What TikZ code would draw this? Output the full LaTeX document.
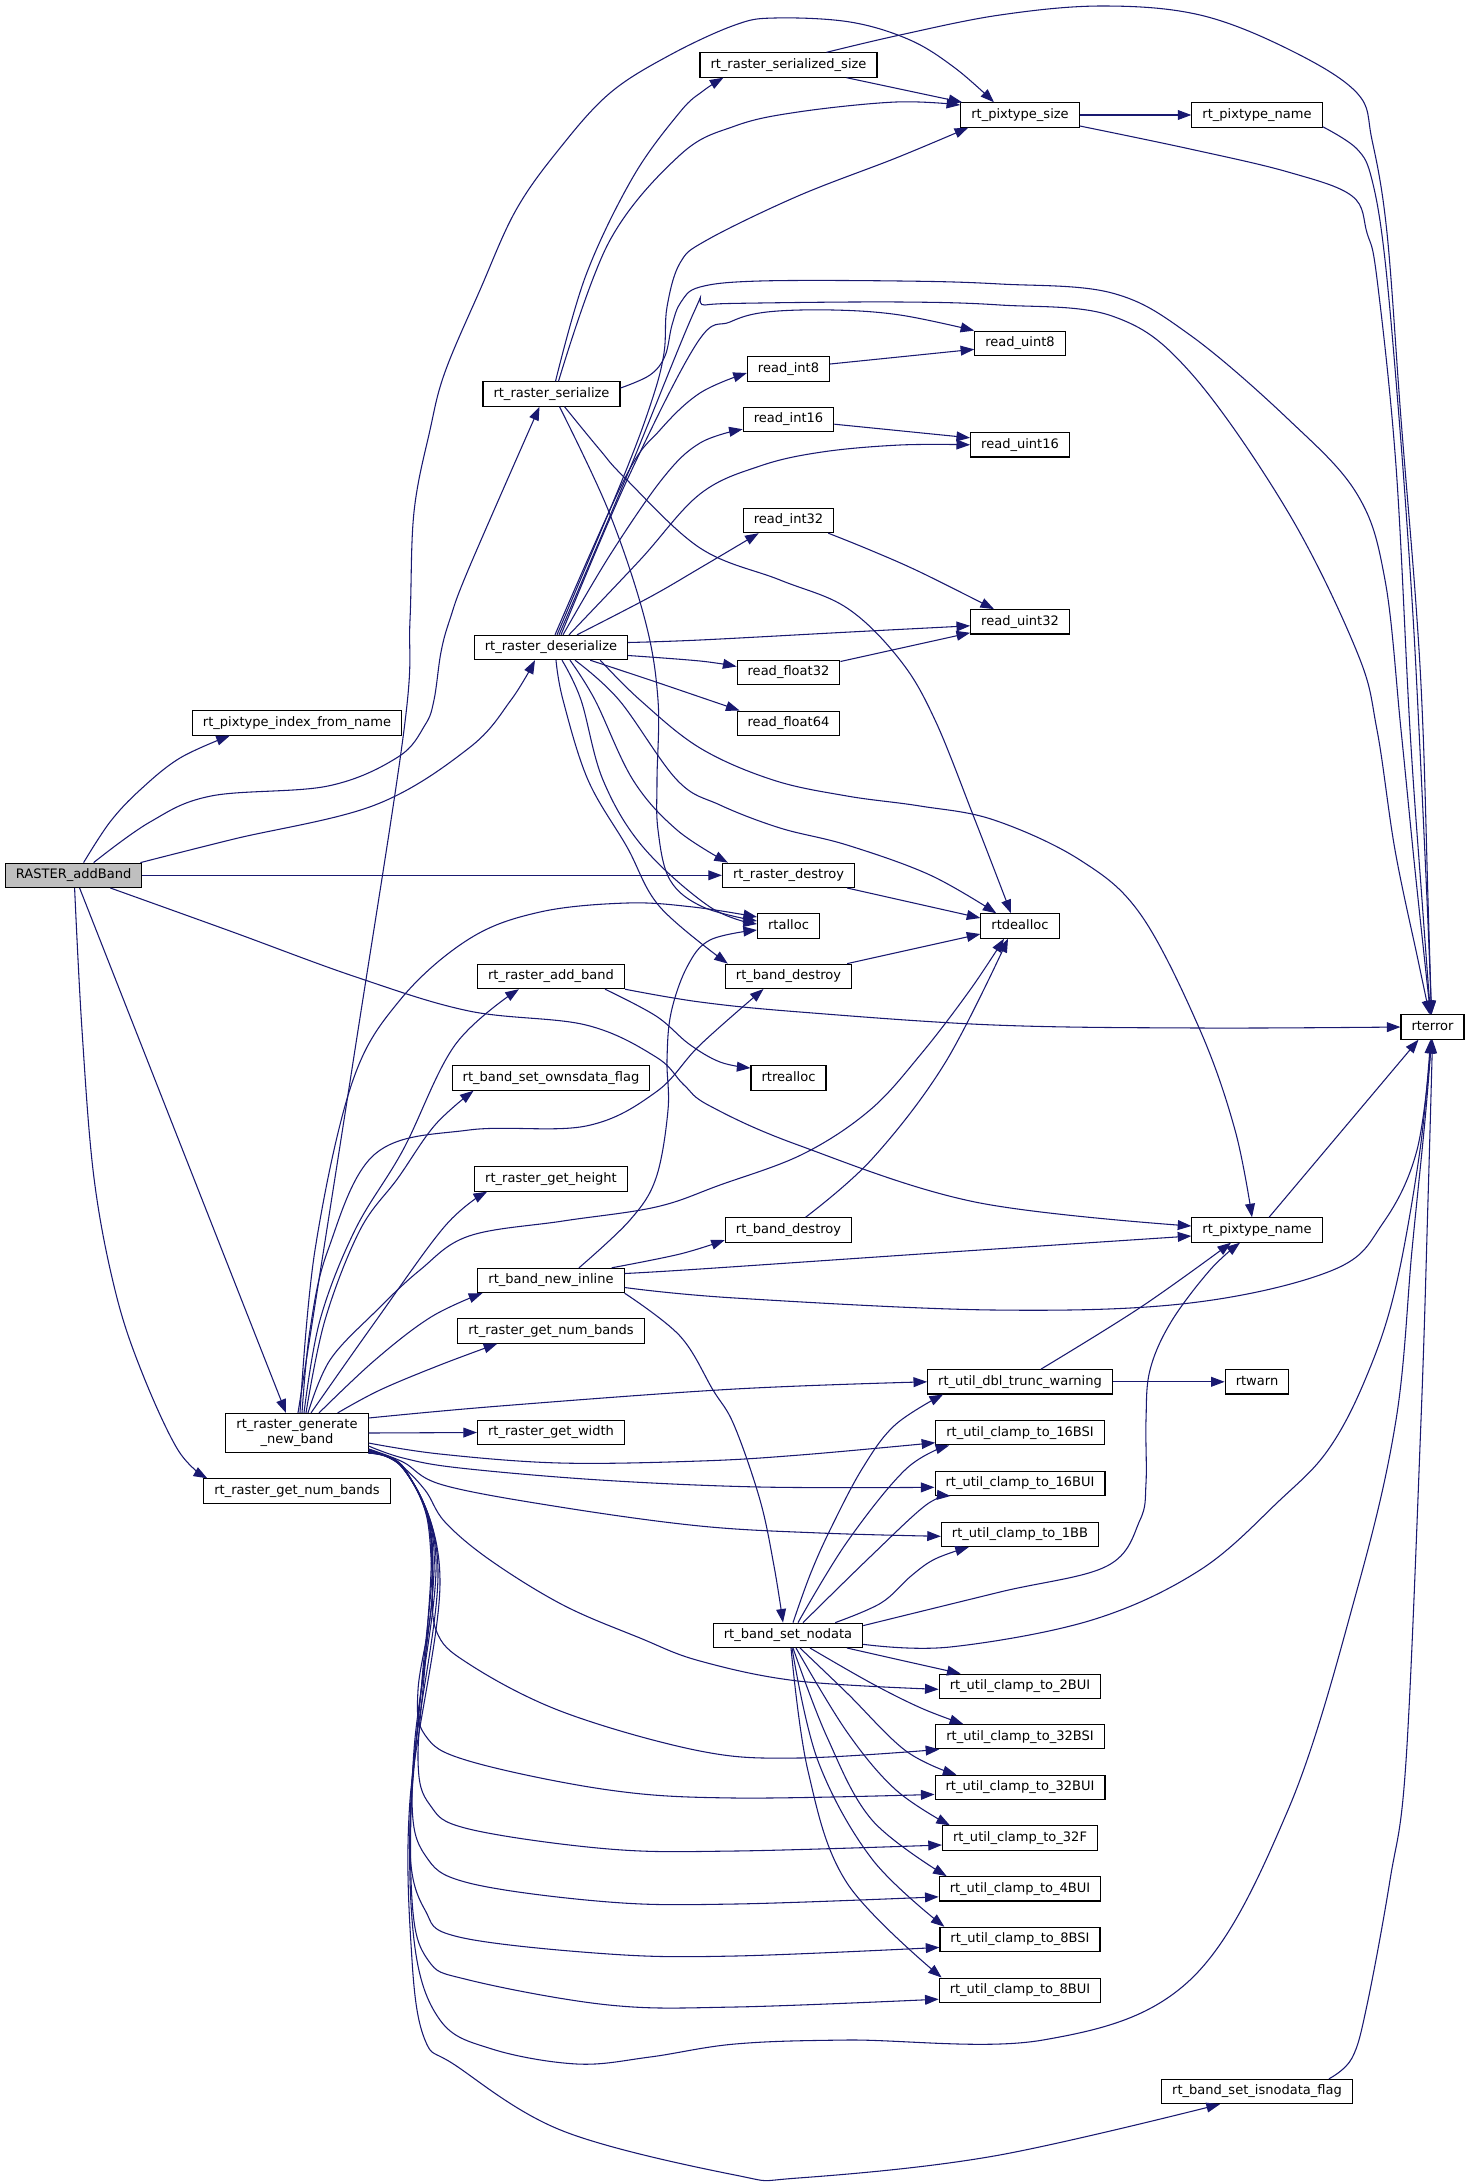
\documentclass[tikz,border=0pt]{standalone}
\usepackage{fontspec}
\setmainfont{DejaVu Sans}
\usetikzlibrary{arrows.meta,calc}
\definecolor{edgec}{HTML}{191970}
\definecolor{graybox}{HTML}{BFBFBF}
\begin{document}
\begin{tikzpicture}[x=0.75pt,y=-0.75pt,
  box/.style={draw=black, line width=0.85pt, fill=white, inner xsep=7.9pt, inner ysep=0pt,
    minimum height=18.2pt, text height=7.4pt, text depth=2.3pt,
    font=\fontsize{9.77pt}{11.2pt}\selectfont},
  box2/.style={draw=black, line width=0.85pt, fill=white, inner xsep=7.9pt, inner ysep=0pt,
    minimum height=29.3pt, align=center, font=\fontsize{9.77pt}{11pt}\selectfont},
  edge/.style={draw=edgec, line width=0.8pt, -{Triangle[length=10.2pt,width=7.4pt]}},
  sm/.style={smooth, tension=0.6}]
\fill[white] (0,0) rectangle (1469,2184);
\useasboundingbox (0,0) rectangle (1469,2184);

% ---------------- nodes ----------------
\node[box, fill=graybox] (A) at (73.6,875.3) {RASTER\_addBand};
\node[box] (IFN) at (297,723) {rt\_pixtype\_index\_from\_name};
\node[box] (S) at (551.5,394) {rt\_raster\_serialize};
\node[box] (D) at (551,647.5) {rt\_raster\_deserialize};
\node[box] (SS) at (788.5,65) {rt\_raster\_serialized\_size};
\node[box] (PS) at (1020,115) {rt\_pixtype\_size};
\node[box] (PN1) at (1257,115) {rt\_pixtype\_name};
\node[box] (RU8) at (1020,343.3) {read\_uint8};
\node[box] (RI8) at (788.5,369) {read\_int8};
\node[box] (RI16) at (788.5,419.2) {read\_int16};
\node[box] (RU16) at (1020,444.8) {read\_uint16};
\node[box] (RI32) at (788.5,520.5) {read\_int32};
\node[box] (RU32) at (1020,621.8) {read\_uint32};
\node[box] (RF32) at (788.5,672.5) {read\_float32};
\node[box] (RF64) at (788.5,723.2) {read\_float64};
\node[box] (RD) at (788.5,875.3) {rt\_raster\_destroy};
\node[box] (RA) at (788.5,926) {rtalloc};
\node[box] (RDA) at (1020,926) {rtdealloc};
\node[box] (RAB) at (551,976.5) {rt\_raster\_add\_band};
\node[box] (BD1) at (788.5,976.3) {rt\_band\_destroy};
\node[box] (RE) at (1432.5,1027) {rterror};
\node[box] (RR) at (788.5,1078) {rtrealloc};
\node[box] (OWN) at (551,1078) {rt\_band\_set\_ownsdata\_flag};
\node[box] (GH) at (551,1179) {rt\_raster\_get\_height};
\node[box] (BD2) at (788.5,1230) {rt\_band\_destroy};
\node[box] (PN2) at (1257,1230) {rt\_pixtype\_name};
\node[box] (BNI) at (551,1280.5) {rt\_band\_new\_inline};
\node[box] (GNB1) at (551,1331) {rt\_raster\_get\_num\_bands};
\node[box] (DTW) at (1020,1381.8) {rt\_util\_dbl\_trunc\_warning};
\node[box] (RW) at (1257,1381.8) {rtwarn};
\node[box2] (G) at (297,1433) {rt\_raster\_generate\\\_new\_band};
\node[box] (GW) at (551,1432.5) {rt\_raster\_get\_width};
\node[box] (C16S) at (1020,1432.7) {rt\_util\_clamp\_to\_16BSI};
\node[box] (GNB2) at (297,1491) {rt\_raster\_get\_num\_bands};
\node[box] (C16U) at (1020,1483.3) {rt\_util\_clamp\_to\_16BUI};
\node[box] (C1BB) at (1020,1534.3) {rt\_util\_clamp\_to\_1BB};
\node[box] (SN) at (788,1635.3) {rt\_band\_set\_nodata};
\node[box] (C2U) at (1020,1686.3) {rt\_util\_clamp\_to\_2BUI};
\node[box] (C32S) at (1020,1736.7) {rt\_util\_clamp\_to\_32BSI};
\node[box] (C32U) at (1020,1787.4) {rt\_util\_clamp\_to\_32BUI};
\node[box] (C32F) at (1020,1838) {rt\_util\_clamp\_to\_32F};
\node[box] (C4U) at (1020,1888.8) {rt\_util\_clamp\_to\_4BUI};
\node[box] (C8S) at (1020,1939.4) {rt\_util\_clamp\_to\_8BSI};
\node[box] (C8U) at (1020,1990.2) {rt\_util\_clamp\_to\_8BUI};
\node[box] (ISN) at (1257,2091.5) {rt\_band\_set\_isnodata\_flag};

% ---------------- RASTER_addBand ----------------
\draw[edge] plot[sm] coordinates {($(A.north)+(10,0)$) (110,822) (140,790) (180,758) ($(IFN.south west)+(38,0)$)};
\draw[edge] plot[sm] coordinates {($(A.north)+(20,0)$) (150,822) (211,796) (328,786) (398,757) (425,725) (434,700) (441,652) (450,619) (469,568) ($(S.south)+(-12,0)$)};
\draw[edge] plot[sm] coordinates {($(A.north east)+(-2,0)$) (234,839) (375,805) (469,748) (511,700) ($(D.south)+(-16,0)$)};
\draw[edge] (A.east) -- (RD.west);
\draw[edge] plot[sm] coordinates {($(A.south east)+(-32,0)$) (230,931) (356,977) (469,1011) (586,1025) (656,1057) (684,1085) (710,1106) (798,1145) (975,1202) ($(PN2.west)+(0,-4)$)};
\draw[edge] ($(A.south)+(6,0)$) -- ($(G.north)+(-11,0)$);
\draw[edge] plot[sm] coordinates {($(A.south)+(1,0)$) (82,1030) (94,1178) (115,1290) (141,1370) (178,1450) ($(GNB2.north west)+(4,0)$)};

% ---------------- rt_raster_serialize ----------------
\draw[edge] plot[sm] coordinates {($(S.north)+(4,0)$) (586,275) (633,177) (680,112) (703,91) ($(SS.south west)+(24,0)$)};
\draw[edge] plot[sm] coordinates {($(S.north)+(7,0)$) (609,242) (680,155) (735,126) (798,112) (896,102) ($(PS.west)+(0,-10)$)};
\draw[edge] plot[sm] coordinates {($(S.east)+(0,-6)$) (650,375) (665,356) (672,325) (681,302) (700,287) (760,281) (900,281) (1000,284) (1112,293) (1190,335) (1288,419) (1357,494) (1385,580) (1401,730) (1415,870) ($(RE.north)+(-2,0)$)};
\draw[edge] plot[sm] coordinates {($(S.south)+(8,0)$) (609,512) (645,620) (658,700) (657,780) (658,830) (670,880) (703,907) ($(RA.west)+(0,-5)$)};
\draw[edge] plot[sm] coordinates {($(S.south)+(13,0)$) (600,450) (625,478) (700,548) (780,580) (847,608) (900,660) (935,720) (975,820) ($(RDA.north)+(-9,0)$)};

% ---------------- rt_raster_deserialize ----------------
\draw[edge] plot[sm] coordinates {($(D.north)+(6,0)$) (623,478) (652,400) (664,353) (667,307) (680,263) (707,240) (798,196) (896,158) ($(PS.south west)+(8,0)$)};
\draw[edge] plot[sm] coordinates {($(D.north)+(8,0)$) (626,478) (694,312) (705,305) (760,303) (900,302) (1000,305) (1112,316) (1190,372) (1288,512) (1357,652) (1377,730) (1395,850) (1418,960) ($(RE.north)+(-3,0)$)};
\draw[edge] plot[sm] coordinates {($(D.north)+(10,0)$) (628,478) (697,343) (730,322) (767,312) (833,310) (900,315) (RU8.north west)};
\draw[edge] plot[sm] coordinates {($(D.north)+(4,0)$) (625,478) (660,430) (700,393) ($(RI8.west)+(0,4)$)};
\draw[edge] plot[sm] coordinates {($(D.north)+(12,0)$) (610,555) (663,478) (700,443) ($(RI16.west)+(0,10)$)};
\draw[edge] plot[sm] coordinates {($(D.north)+(18,0)$) (640,560) (700,494) (760,466) (822,452) (900,445) (RU16.west)};
\draw[edge] plot[sm] coordinates {($(D.north)+(26,0)$) (650,597) (700,568) ($(RI32.south west)+(16,0)$)};
\draw[edge] plot[sm] coordinates {($(D.east)+(0,-5)$) (700,640) (850,632) ($(RU32.west)+(0,4)$)};
\draw[edge] plot[sm] coordinates {($(D.east)+(0,8)$) (700,661) ($(RF32.west)+(0,-6)$)};
\draw[edge] plot[sm] coordinates {($(D.south east)+(-38,0)$) (650,680) (700,697) ($(RF64.north west)+(3,0)$)};
\draw[edge] plot[sm] coordinates {($(D.south)+(19,0)$) (595,700) (633,780) (677,830) ($(RD.north west)+(6,0)$)};
\draw[edge] plot[sm] coordinates {($(D.south)+(11,0)$) (581,700) (603,780) (643,847) (710,907) ($(RA.west)+(0,-2)$)};
\draw[edge] plot[sm] coordinates {($(D.south)+(5,0)$) (563,700) (588,780) (627,847) (660,907) ($(BD1.north west)+(3,0)$)};
\draw[edge] plot[sm] coordinates {($(D.south)+(24,0)$) (619,700) (677,780) (720,805) (780,828) (847,845) (930,875) ($(RDA.north west)+(16,0)$)};
\draw[edge] plot[sm] coordinates {($(D.south east)+(-28,0)$) (640,700) (700,748) (773,780) (847,796) (920,806) (994,820) (1080,860) (1141,915) (1200,1030) (1235,1130) ($(PN2.north)+(-5,0)$)};

% ---------------- small ones ----------------
\draw[edge] ($(SS.south east)+(-31,0)$) -- ($(PS.north west)+(2,0)$);
\draw[edge] plot[sm] coordinates {($(SS.north east)+(-51,0)$) (900,35) (1000,15) (1102,6) (1200,15) (1290,50) (1357,93) (1372,140) (1387,233) (1401,419) (1416,605) (1423,730) (1428,900) ($(RE.north)+(-1,0)$)};
\draw[edge] (PS.east) -- (PN1.west);
\draw[edge] plot[sm] coordinates {($(PS.east)+(0,11)$) (1190,149) (1288,172) (1352,196) (1367,233) (1377,279) (1396,466) (1410,730) (1422,900) ($(RE.north)+(-2,0)$)};
\draw[edge] plot[sm] coordinates {($(PN1.south east)+(0,-1)$) (1357,149) (1372,180) (1385,260) (1400,430) (1412,600) (1419,730) (1427,900) ($(RE.north)+(-1,0)$)};
\draw[edge] ($(RI8.east)+(0,-5)$) -- ($(RU8.west)+(0,6)$);
\draw[edge] ($(RI16.east)+(0,5)$) -- ($(RU16.west)+(0,-7)$);
\draw[edge] plot[sm] coordinates {($(RI32.south east)+(-6,0)$) (870,550) (920,572) ($(RU32.north)+(-26,0)$)};
\draw[edge] ($(RF32.east)+(0,-11)$) -- ($(RU32.west)+(0,11)$);
\draw[edge] ($(RD.south east)+(-8,0)$) -- ($(RDA.west)+(0,-8)$);
\draw[edge] ($(BD1.north east)+(-5,0)$) -- ($(RDA.west)+(0,8)$);
\draw[edge] plot[sm] coordinates {(RAB.south east) (700,1002) (800,1012) (994,1025) (1200,1028) (RE.west)};
\draw[edge] plot[sm] coordinates {($(RAB.south east)+(-20,0)$) (656,1016) (689,1044) (720,1062) ($(RR.west)+(0,-10)$)};
\draw[edge] plot[sm] coordinates {($(BD2.north)+(17,0)$) (872,1159) (945,1063) ($(RDA.south)+(-12,0)$)};
\draw[edge] ($(PN2.north)+(12,0)$) -- ($(RE.south)+(-14,0)$);

% ---------------- rt_band_new_inline ----------------
\draw[edge] plot[sm] coordinates {($(BNI.north east)+(-13,0)$) (680,1254) ($(BD2.west)+(0,10)$)};
\draw[edge] plot[sm] coordinates {($(BNI.east)+(0,-7)$) (700,1269) (950,1252) ($(PN2.west)+(0,6)$)};
\draw[edge] plot[sm] coordinates {($(BNI.east)+(0,7)$) (735,1298) (994,1310) (1190,1303) (1333,1270) (1383,1223) (1417,1150) ($(RE.south)+(-1,0)$)};
\draw[edge] plot[sm] coordinates {($(BNI.north)+(28,0)$) (630,1220) (656,1178) (668,1110) (667,1060) (671,1013) (687,967) (710,940) ($(RA.west)+(0,4)$)};
\draw[edge] plot[sm] coordinates {(BNI.south east) (680,1336) (713,1390) (734,1425) (760,1500) (774,1566) ($(SN.north)+(-5,0)$)};

\draw[edge] plot[sm] coordinates {($(DTW.north)+(21,0)$) (1141,1307) ($(PN2.south)+(-26,0)$)};
\draw[edge] (DTW.east) -- (RW.west);

% ---------------- rt_raster_generate_new_band ----------------
\draw[edge] plot[sm] coordinates {($(G.north)+(1,0)$) (354,1056) (404,730) (410,620) (414,512) (430,430) (445,372) (480,290) (516,210) (560,148) (610,93) (670,55) (735,25) (775,18) (850,22) (910,40) (955,68) ($(PS.north)+(-26,0)$)};
\draw[edge] plot[sm] coordinates {($(G.north)+(3,0)$) (315,1250) (352,1083) (400,1000) (469,939) (540,912) (627,903) (693,907) ($(RA.west)+(0,-9)$)};
\draw[edge] plot[sm] coordinates {($(G.north)+(7,0)$) (320,1320) (355,1230) (403,1150) (455,1045) ($(RAB.south west)+(42,0)$)};
\draw[edge] plot[sm] coordinates {($(G.north)+(9,0)$) (325,1320) (360,1230) (398,1178) (435,1125) ($(OWN.south west)+(22,0)$)};
\draw[edge] plot[sm] coordinates {($(G.north)+(14,0)$) (375,1322) (445,1226) ($(GH.south west)+(13,0)$)};
\draw[edge] plot[sm] coordinates {($(G.north)+(5,0)$) (310,1330) (328,1250) (375,1154) (469,1130) (586,1126) (656,1092) (700,1045) ($(BD1.south)+(-25,0)$)};
\draw[edge] plot[sm] coordinates {($(G.north)+(11,0)$) (330,1360) (375,1312) (420,1270) (469,1236) (563,1221) (656,1207) (720,1185) (803,1154) (870,1110) (921,1054) (970,990) ($(RDA.south)+(-16,0)$)};
\draw[edge] plot[sm] coordinates {($(G.north)+(22,0)$) (375,1360) (431,1317) ($(BNI.south west)+(5,0)$)};
\draw[edge] plot[sm] coordinates {($(G.north east)+(-31,0)$) (380,1390) (440,1365) ($(GNB1.south west)+(40,0)$)};
\draw[edge] plot[sm] coordinates {($(G.east)+(0,-15)$) (500,1406) (735,1389) (DTW.west)};
\draw[edge] (G.east) -- (GW.west);
\draw[edge] plot[sm] coordinates {($(G.east)+(0,10)$) (440,1454) (560,1463) (700,1461) (800,1455) ($(C16S.west)+(0,10)$)};
\draw[edge] plot[sm] coordinates {($(G.east)+(0,13)$) (403,1458) (460,1468) (600,1480) (760,1487) ($(C16U.west)+(0,4)$)};
\draw[edge] plot[sm] coordinates {($(G.east)+(0,16)$) (403,1462) (443,1485) (560,1507) (700,1526) (820,1533) ($(C1BB.west)+(0,2)$)};
\draw[edge] plot[sm] coordinates {($(G.south east)+(0,-4)$) (398,1463) (425,1490) (445,1522) (490,1560) (563,1605) (640,1638) (700,1661) (798,1681) ($(C2U.west)+(0,3)$)};
\draw[edge] plot[sm] coordinates {($(G.south east)+(0,-3)$) (400,1465) (425,1510) (432,1570) (436,1630) (469,1664) (563,1712) (700,1751) (798,1758) ($(C32S.south west)+(4,0)$)};
\draw[edge] plot[sm] coordinates {($(G.south east)+(0,-2)$) (401,1466) (428,1520) (432,1600) (418,1690) (425,1735) (469,1761) (609,1790) (735,1798) ($(C32U.west)+(0,7)$)};
\draw[edge] plot[sm] coordinates {($(G.south east)+(0,-1)$) (402,1467) (430,1530) (426,1650) (418,1760) (430,1805) (469,1829) (609,1849) (735,1851) ($(C32F.west)+(0,7)$)};
\draw[edge] plot[sm] coordinates {(G.south east) (403,1468) (432,1540) (422,1680) (412,1800) (425,1855) (469,1883) (609,1902) (735,1904) ($(C4U.west)+(0,8)$)};
\draw[edge] plot[sm] coordinates {(G.south east) (404,1469) (434,1550) (418,1720) (410,1850) (425,1910) (459,1937) (609,1954) (735,1956) ($(C8S.west)+(0,8)$)};
\draw[edge] plot[sm] coordinates {(G.south east) (405,1470) (436,1560) (414,1750) (412,1900) (428,1960) (469,1980) (609,2005) (735,2007) ($(C8U.west)+(0,9)$)};
\draw[edge] plot[sm] coordinates {(G.south east) (406,1471) (438,1570) (412,1780) (414,1940) (440,2020) (492,2049) (577,2064) (650,2057) (735,2044) (847,2040) (1043,2040) (1190,1980) (1288,1810) (1357,1590) (1396,1420) (1412,1250) (1425,1120) ($(RE.south)+(-1,0)$)};
\draw[edge] plot[sm] coordinates {(G.south east) (407,1472) (440,1580) (410,1800) (412,1960) (425,2040) (455,2065) (563,2131) (735,2175) (798,2178) (994,2156) ($(ISN.south)+(-37,0)$)};

% ---------------- rt_band_set_nodata ----------------
\draw[edge] plot[sm] coordinates {($(SN.north)+(5,0)$) (810,1575) (830,1530) (862,1469) (895,1425) ($(DTW.south west)+(16,0)$)};
\draw[edge] plot[sm] coordinates {($(SN.north)+(10,0)$) (847,1542) (906,1469) ($(C16S.south west)+(14,0)$)};
\draw[edge] plot[sm] coordinates {($(SN.north)+(15,0)$) (871,1556) (926,1505) ($(C16U.south west)+(16,0)$)};
\draw[edge] plot[sm] coordinates {($(SN.north east)+(-28,0)$) (881,1603) (911,1576) (935,1559) ($(C1BB.south west)+(28,0)$)};
\draw[edge] plot[sm] coordinates {($(SN.north east)+(0,3)$) (1000,1592) (1107,1566) (1140,1520) (1146,1483) (1146,1420) (1150,1370) (1171,1322) (1210,1270) ($(PN2.south)+(-17,0)$)};
\draw[edge] plot[sm] coordinates {($(SN.east)+(0,9)$) (950,1647) (1092,1620) (1200,1570) (1280,1500) (1328,1450) (1365,1380) (1395,1290) (1420,1150) ($(RE.south)+(-2,0)$)};
\draw[edge] plot[sm] coordinates {($(SN.south)+(59,0)$) (900,1660) ($(C2U.north west)+(22,0)$)};
\draw[edge] plot[sm] coordinates {($(SN.south)+(22,0)$) (871,1683) (921,1708) ($(C32S.north west)+(28,0)$)};
\draw[edge] plot[sm] coordinates {($(SN.south)+(12,0)$) (847,1693) (906,1751) ($(C32U.north west)+(22,0)$)};
\draw[edge] plot[sm] coordinates {($(SN.south)+(8,0)$) (847,1732) (896,1790) ($(C32F.north west)+(8,0)$)};
\draw[edge] plot[sm] coordinates {($(SN.south)+(5,0)$) (827,1737) (872,1820) ($(C4U.north west)+(8,0)$)};
\draw[edge] plot[sm] coordinates {($(SN.south)+(4,0)$) (818,1761) (872,1859) ($(C8S.north west)+(5,0)$)};
\draw[edge] plot[sm] coordinates {($(SN.south)+(3,0)$) (808,1771) (847,1883) ($(C8U.north west)+(3,0)$)};

\draw[edge] plot[sm] coordinates {($(ISN.north east)+(-24,0)$) (1352,2058) (1367,2005) (1390,1880) (1406,1761) (1421,1420) (1428,1200) (RE.south)};
\end{tikzpicture}
\end{document}
